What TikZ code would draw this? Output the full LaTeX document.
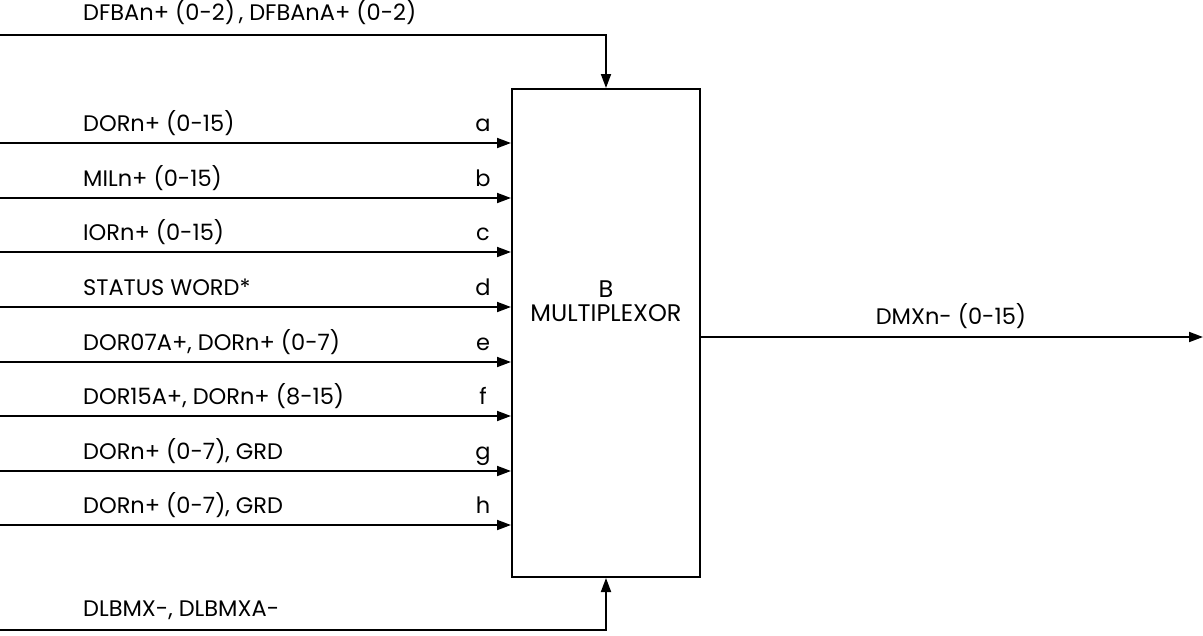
\documentclass[tikz,border=0pt]{standalone}
\usepackage{fontspec}
\setmainfont{Poppins}
\usetikzlibrary{arrows.meta}
\begin{document}
\begin{tikzpicture}[x=1pt,y=-1pt,
  wire/.style={line width=1.8pt},
  arr/.style={wire,-{Triangle[length=14pt,width=10pt]}},
  lbl/.style={anchor=base west,inner sep=0pt,font=\fontsize{22.5}{27}\selectfont},
  ltr/.style={anchor=base,inner sep=0pt,font=\fontsize{22.5}{27}\selectfont},
  muxbox/.style={draw,line width=2pt,minimum width=188pt,minimum height=488pt,inner sep=0pt}]
\useasboundingbox (0,0) rectangle (1203,635);
\node[muxbox] (mux) at (606,333) {};
\node[align=center,inner sep=0pt,font=\fontsize{24}{24}\selectfont] (title) at (606,301) {B\\MULTIPLEXOR};
% top input
\coordinate (tin) at (0,35);
\coordinate (tbend) at (606,35);
\draw[arr] (tin) -- (tbend) -- (mux.north);
\node[lbl] (tlbl) at (83,20) {DFBAn+ (0-2)\,, DFBAnA+ (0-2)};
% bottom input
\coordinate (bin) at (0,630);
\coordinate (bbend) at (606,630);
\draw[arr] (bin) -- (bbend) -- (mux.south);
\node[lbl] (blbl) at (83,616) {DLBMX-, DLBMXA-};
% side inputs
\foreach \y/\t/\l/\n in {143/{DORn+ (0-15)}/a/ia, 198/{MILn+ (0-15)}/b/ib, 252/{IORn+ (0-15)}/c/ic, 307/{STATUS WORD*}/d/id, 362/{DOR07A+, DORn+ (0-7)}/e/ie, 416/{DOR15A+, DORn+ (8-15)}/f/if, 471/{DORn+ (0-7), GRD}/g/ig, 525/{DORn+ (0-7), GRD}/h/ih}{
  \coordinate (\n) at (0,\y);
  \draw[arr] (\n) -- (mux.west |- \n);
  \node[lbl] (\n-lbl) at (83,\y-12) {\t};
  \node[ltr] (\n-ltr) at (483,\y-12) {\l};
}
% output
\coordinate (out) at (1203,337);
\draw[arr] (mux.east |- out) -- (out);
\node[anchor=base,inner sep=0pt,font=\fontsize{22.5}{27}\selectfont] (olbl) at (951,324) {DMXn- (0-15)};
\end{tikzpicture}
\end{document}
